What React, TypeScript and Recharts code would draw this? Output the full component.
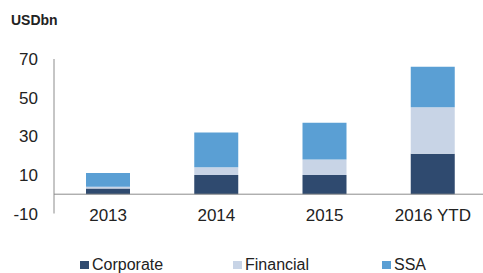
import { BarChart, Bar, XAxis, YAxis, ReferenceLine } from "recharts";

const years = ["2013", "2014", "2015", "2016 YTD"];
const corporate = [3, 10, 10, 21];
const financial = [0.8, 4, 8, 24];
const ssa = [7.2, 18, 19, 21];
const yTicks = [-10, 10, 30, 50, 70];

const series = [
  { key: "corporate", name: "Corporate", color: "#2f4a6f" },
  { key: "financial", name: "Financial", color: "#c8d4e6" },
  { key: "ssa", name: "SSA", color: "#5a9fd4" },
];

const data = years.map((year, i) => ({
  year,
  corporate: corporate[i],
  financial: financial[i],
  ssa: ssa[i],
}));

const font = "'Liberation Sans', Arial, sans-serif";

const XTick = ({ x, y, payload }: any) => (
  <text x={x} y={y} dy={7} textAnchor="middle" fontSize={17} fill="#222" fontFamily={font}>
    {payload.value}
  </text>
);

const legendLeft = [80, 233, 382];

export default function App() {
  return (
    <div
      style={{
        position: "absolute",
        left: 0,
        top: 0,
        width: 483,
        height: 273,
        overflow: "hidden",
        background: "#fff",
        fontFamily: font,
      }}
    >
      <div
        style={{
          position: "absolute",
          left: 11,
          top: 12,
          fontSize: 14,
          fontWeight: "bold",
          color: "#222",
        }}
      >
        USDbn
      </div>
      <BarChart
        width={490}
        height={273}
        data={data}
        margin={{ top: 59, right: 3, left: 0, bottom: 29.5 }}
        barSize={44}
      >
        <YAxis
          width={54}
          domain={[-10, 70]}
          ticks={yTicks}
          interval={0}
          tickLine={false}
          tickSize={0}
          tickMargin={16}
          axisLine={{ stroke: "#8c8c8c" }}
          tick={{ fontSize: 17, fill: "#222", fontFamily: font }}
        />
        <XAxis
          dataKey="year"
          height={30}
          axisLine={false}
          tickLine={false}
          tickSize={0}
          tickMargin={0}
          tick={<XTick />}
          interval={0}
        />
        <ReferenceLine y={0} stroke="#8c8c8c" strokeWidth={1} />
        {series.map((s) => (
          <Bar
            key={s.key}
            dataKey={s.key}
            name={s.name}
            stackId="a"
            fill={s.color}
            isAnimationActive={false}
          />
        ))}
      </BarChart>
      {series.map((s, i) => (
        <div
          key={s.key}
          style={{
            position: "absolute",
            left: legendLeft[i],
            top: 256,
            display: "flex",
            alignItems: "center",
            fontSize: 16,
            color: "#222",
            lineHeight: "18px",
          }}
        >
          <span
            style={{
              display: "inline-block",
              width: 9,
              height: 8,
              background: s.color,
              marginRight: 3,
            }}
          />
          {s.name}
        </div>
      ))}
    </div>
  );
}
